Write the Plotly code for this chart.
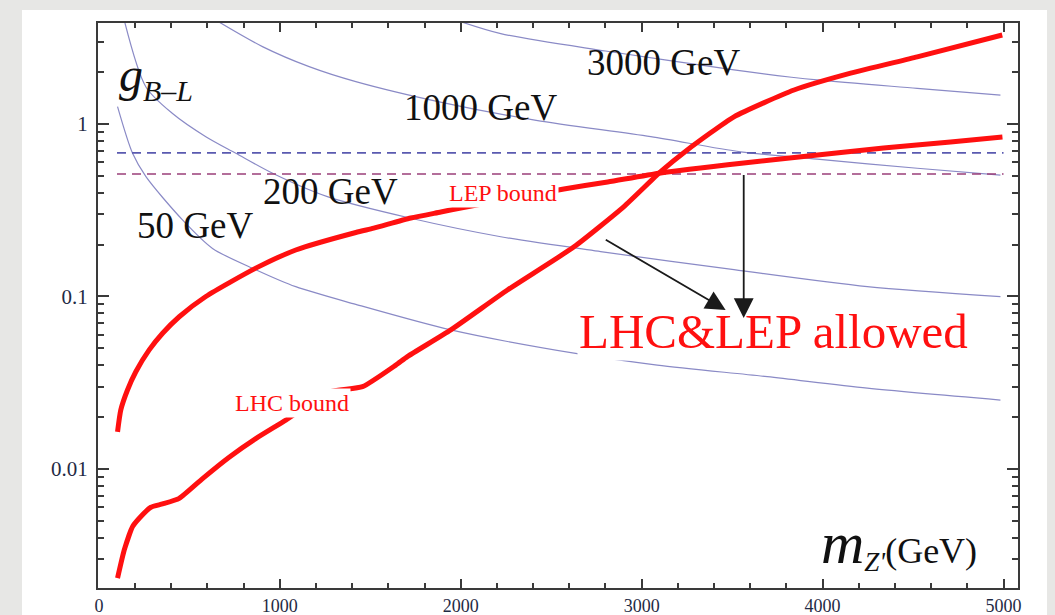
import numpy as np
import plotly.graph_objects as go

# ---------------- data ----------------
# LEP bound (red), Z' mass in GeV vs g_{B-L}
lep_m = [103, 121, 158, 204, 278, 352, 444, 591, 867, 1088, 1420, 1519, 1724, 1890, 2000,
         2570, 2812, 3105, 3564, 3972, 4337, 4707, 4994]
lep_g = [0.0164, 0.022, 0.0287, 0.0366, 0.049, 0.0612, 0.0763, 0.100, 0.146, 0.186, 0.235, 0.249,
         0.285, 0.309, 0.326, 0.42, 0.461, 0.52, 0.594, 0.661, 0.726, 0.787, 0.841]

# LHC bound (red)
lhc_m = [103, 140, 186, 223, 287, 352, 444, 573, 720, 867, 1033, 1273, 1457, 1641, 1705, 1945,
         2258, 2626, 2902, 3105, 3252, 3510, 3842, 4155, 4523, 4993]
lhc_g = [0.00233, 0.00339, 0.00463, 0.00518, 0.0060, 0.00627, 0.00676, 0.0088, 0.0117, 0.0150,
         0.0192, 0.028, 0.030, 0.040, 0.0448, 0.064, 0.109, 0.194, 0.332, 0.529, 0.707, 1.10,
         1.574, 1.97, 2.45, 3.28]

# thin blue contours
c50_m = [103, 186, 260, 462, 628, 867, 1088, 1420, 1945, 2626, 3086, 3694, 4247, 4983]
c50_g = [1.26, 0.676, 0.495, 0.278, 0.190, 0.143, 0.114, 0.090, 0.064, 0.0469, 0.040, 0.0343,
         0.0294, 0.0251]
c200_m = [140, 260, 407, 591, 757, 960, 1263, 1724, 2221, 2773, 3510, 4247, 4983]
c200_g = [4.0, 1.64, 1.15, 0.844, 0.676, 0.518, 0.379, 0.284, 0.222, 0.182, 0.143, 0.114, 0.0997]
c1000_m = [655, 904, 1162, 1420, 1900, 2417, 3050, 3547, 3970, 4523, 4983]
c1000_g = [3.95, 2.81, 2.15, 1.76, 1.33, 1.05, 0.844, 0.69, 0.625, 0.554, 0.506]
c3000_m = [1990, 2221, 2800, 3510, 3970, 4523, 4983]
c3000_g = [3.95, 3.34, 2.65, 2.06, 1.80, 1.61, 1.47]

# horizontal dashed limits
dash_m = [100, 5000]
blue_limit = 0.68
purple_limit = 0.513

x_ticks = [0, 1000, 2000, 3000, 4000, 5000]
y_ticks = [0.01, 0.1, 1]
y_tick_text = ["0.01", "0.1", "1"]
y_minor = [k * 10.0 ** e for e in (-3, -2, -1, 0) for k in range(2, 10)]

SERIF = "Liberation Serif"
RED = "#ff1010"
BLUE = "#8a8ac6"

fig = go.Figure()

for m, g in [(c50_m, c50_g), (c200_m, c200_g), (c1000_m, c1000_g), (c3000_m, c3000_g)]:
    fig.add_trace(go.Scatter(x=m, y=g, mode="lines", line=dict(color=BLUE, width=1.2,
                             shape="spline", smoothing=0.8), hoverinfo="skip"))

fig.add_trace(go.Scatter(x=dash_m, y=[blue_limit] * 2, mode="lines",
                         line=dict(color="#5a5ab0", width=1.6, dash="9px,6px")))
fig.add_trace(go.Scatter(x=dash_m, y=[purple_limit] * 2, mode="lines",
                         line=dict(color="#9a3f7a", width=1.6, dash="9px,6px")))

fig.add_trace(go.Scatter(x=lep_m, y=lep_g, mode="lines",
                         line=dict(color=RED, width=5, shape="spline", smoothing=0.6)))
fig.add_trace(go.Scatter(x=lhc_m, y=lhc_g, mode="lines",
                         line=dict(color=RED, width=5, shape="spline", smoothing=0.5)))

ann = []
def txt(x, logg, s, size, color="#111111", bg=None, **kw):
    d = dict(x=x, y=logg, xref="x", yref="y", text=s, showarrow=False,
             font=dict(family=SERIF, size=size, color=color))
    if bg:
        d["bgcolor"] = bg
    d.update(kw)
    ann.append(d)

txt(3122, 0.359, "3000 GeV", 37)
txt(2110, 0.093, "1000 GeV", 37)
txt(1282, -0.394, "200 GeV", 37)
txt(530, -0.586, "50 GeV", 37)
txt(2232, -0.40, "LEP bound", 24, color=RED, bg="white")
txt(1066, -1.617, "LHC bound", 24, color=RED, bg="white")
txt(3729, -1.205, "LHC&LEP allowed", 49, color=RED, bg="white")
txt(318, 0.27, "<i>g</i><sub><span style='font-size:30px'><i>B</i>–<i>L</i></span></sub>", 48)
txt(4420, -2.43, "<i><span style='font-size:60px'>m</span></i><sub><span style='font-size:27px'><i>Z'</i></span></sub>(GeV)", 36)

# arrows (head, tail) in (GeV, log10 g)
arrows = [((3464, -1.078), (2785, -0.661)),
          ((3564, -1.125), (3564, -0.238))]
for (hx, hy), (tx, ty) in arrows:
    ann.append(dict(x=hx, y=hy, ax=tx, ay=ty, xref="x", yref="y", axref="x", ayref="y",
                    showarrow=True, arrowhead=2, arrowsize=2.2, arrowwidth=1.8,
                    arrowcolor="#1a1a1a", text=" "))

fig.update_layout(
    width=1055, height=615,
    margin=dict(l=98, r=37, t=23, b=27, autoexpand=False),
    paper_bgcolor="#e7e7e5", plot_bgcolor="white",
    showlegend=False,
    annotations=ann,
    shapes=[dict(type="rect", xref="paper", yref="paper", x0=-0.0826, x1=1.0315,
                 y0=-0.06, y1=1.023, fillcolor="white", line=dict(width=0), layer="below")],
)

axis_common = dict(showline=True, linecolor="#3a3a3a", linewidth=2, mirror="ticks",
                   ticks="inside", tickcolor="#3a3a3a", tickwidth=1.5, showgrid=False,
                   zeroline=False, automargin=False)

fig.update_xaxes(range=[-5, 5080], tickmode="array", tickvals=x_ticks, ticklen=9,
                 ticklabelstandoff=0,
                 tickfont=dict(family=SERIF, size=18, color="#1f2a44"),
                 minor=dict(dtick=200, tick0=0, ticklen=5, tickwidth=1.5,
                            tickcolor="#3a3a3a", ticks="inside"),
                 **axis_common)
fig.update_yaxes(type="log", range=[-2.690, 0.5855], tickmode="array", tickvals=y_ticks,
                 ticktext=y_tick_text, ticklen=11, ticklabelstandoff=4,
                 tickfont=dict(family=SERIF, size=21, color="#1f2a44"),
                 minor=dict(tickmode="array", tickvals=y_minor, ticklen=6, tickwidth=1.5,
                            tickcolor="#3a3a3a", ticks="inside"),
                 **axis_common)

fig.write_html("out.html")
